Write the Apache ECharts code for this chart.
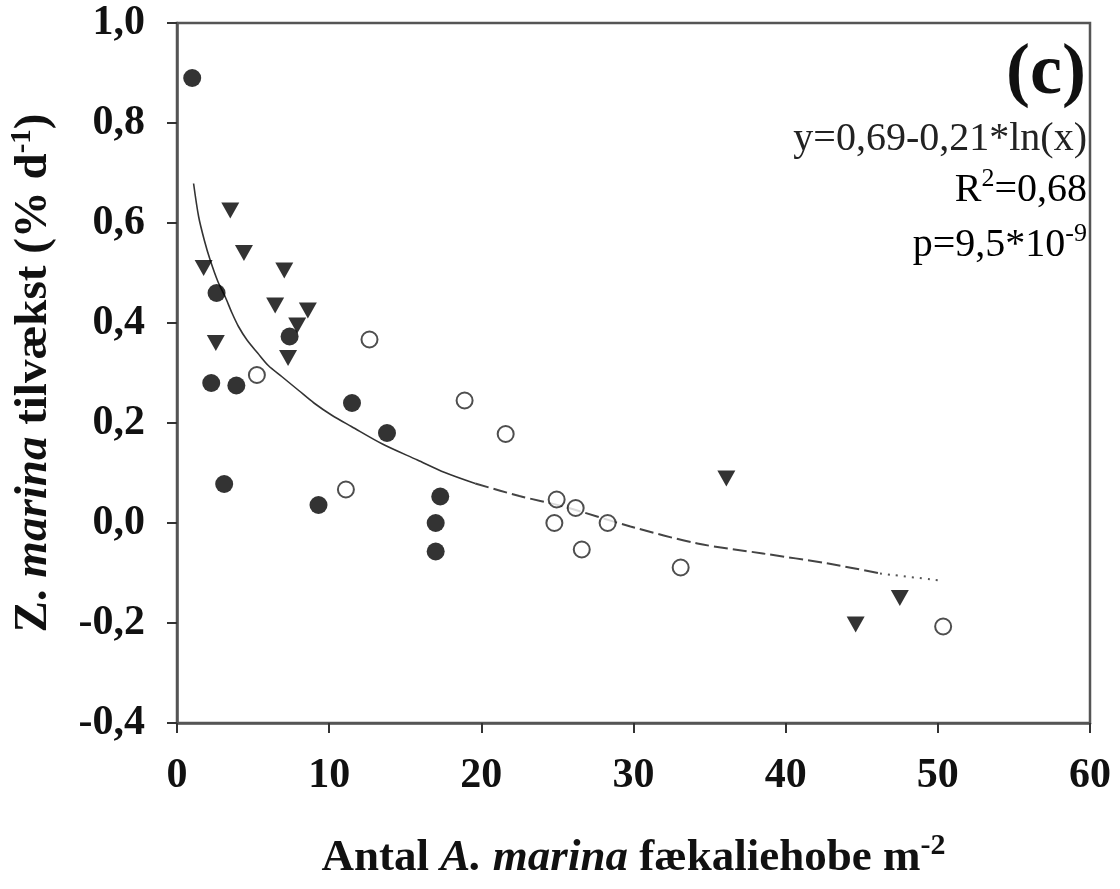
<!DOCTYPE html>
<html>
<head>
<meta charset="utf-8">
<script src="https://cdn.jsdelivr.net/npm/echarts@6.0.0/dist/echarts.min.js"></script>
<style>html,body{margin:0;padding:0;background:#fff;}#chart{width:1120px;height:889px;}</style>
</head>
<body>
<div id="chart"></div>
<script>
// Data
var filledX = [1.0, 2.6, 2.25, 3.9, 3.1, 7.4, 11.5, 13.8, 9.3, 17.3, 17.0, 17.0];
var filledY = [0.89, 0.46, 0.28, 0.275, 0.078, 0.373, 0.24, 0.18, 0.036, 0.053, 0.0, -0.057];

var triX = [3.5, 4.4, 1.75, 7.05, 6.45, 8.6, 7.9, 2.55, 7.3, 36.1, 47.5, 44.6];
var triY = [0.625, 0.54, 0.51, 0.505, 0.435, 0.425, 0.395, 0.36, 0.33, 0.089, -0.15, -0.203];

var openX = [5.25, 12.65, 11.1, 18.9, 21.6, 24.95, 26.2, 24.8, 28.3, 26.6, 33.1, 50.35];
var openY = [0.296, 0.367, 0.067, 0.245, 0.178, 0.047, 0.03, 0.0, 0.0, -0.053, -0.089, -0.207];

// fitted curve, points
var curveX = [1.09, 1.42, 1.8, 2.18, 2.7, 3.16, 3.6, 4.04, 4.6, 5.3, 6.0, 6.88, 8.0, 9.0, 10.2, 11.46, 13.5, 15.8, 17.6, 19.6, 22.5, 25.4, 29.8, 34.2, 38.5, 42.8, 46.2, 50.2];
var curveY = [0.679, 0.613, 0.565, 0.526, 0.482, 0.453, 0.421, 0.393, 0.366, 0.34, 0.315, 0.293, 0.265, 0.24, 0.215, 0.193, 0.158, 0.126, 0.101, 0.079, 0.054, 0.033, -0.007, -0.041, -0.061, -0.081, -0.101, -0.115];

var xTicks = [0, 10, 20, 30, 40, 50, 60];
var yTicks = [-0.4, -0.2, 0.0, 0.2, 0.4, 0.6, 0.8, 1.0];

var eqLines = ['y=0,69-0,21*ln(x)', 'R', '2', '=0,68', 'p=9,5*10', '-9'];

function pairs(xs, ys) { return xs.map(function (x, i) { return [x, ys[i]]; }); }
function seg(a, b) { return pairs(curveX.slice(a, b + 1), curveY.slice(a, b + 1)); }

var FONT = "'Liberation Serif', 'Times New Roman', serif";
var chart = echarts.init(document.getElementById('chart'), null, { renderer: 'canvas' });

var option = {
  backgroundColor: '#fff',
  animation: false,
  grid: { left: 177, right: 30, top: 23, bottom: 166, containLabel: false, outerBoundsMode: 'none',
          show: true, borderColor: '#555', borderWidth: 2.5, backgroundColor: 'transparent' },
  xAxis: {
    type: 'value', min: xTicks[0], max: xTicks[xTicks.length - 1], interval: 10,
    axisLine: { show: true, onZero: false, lineStyle: { color: '#555', width: 2.5 } },
    axisTick: { show: true, inside: false, length: 10, lineStyle: { color: '#333', width: 2 } },
    splitLine: { show: false },
    axisLabel: { fontFamily: FONT, fontWeight: 'bold', fontSize: 42, color: '#111', margin: 32 },
    name: '{b|Antal }{i|A. marina}{b| fækaliehobe m}{sup|-2}',
    nameLocation: 'middle', nameGap: 108,
    nameTextStyle: {
      rich: {
        b: { fontFamily: FONT, fontWeight: 'bold', fontSize: 45, color: '#111' },
        i: { fontFamily: FONT, fontWeight: 'bold', fontStyle: 'italic', fontSize: 45, color: '#111' },
        sup: { fontFamily: FONT, fontWeight: 'bold', fontSize: 30, color: '#111', verticalAlign: 'bottom', padding: [0, 0, 24, 0] }
      }
    }
  },
  yAxis: {
    type: 'value', min: yTicks[0], max: yTicks[yTicks.length - 1], interval: 0.2,
    axisLine: { show: true, onZero: false, lineStyle: { color: '#555', width: 2.5 } },
    axisTick: { show: true, inside: false, length: 10, lineStyle: { color: '#333', width: 2 } },
    splitLine: { show: false },
    axisLabel: {
      fontFamily: FONT, fontWeight: 'bold', fontSize: 42, color: '#111', margin: 32,
      formatter: function (v) { if (Math.abs(v) < 1e-9) v = 0; return v.toFixed(1).replace('.', ','); }
    },
    name: '{b|Z. }{i|marina}{b| tilvækst (% d}{sup|-1}{b|)}',
    nameLocation: 'middle', nameGap: 118, nameRotate: 90,
    nameTextStyle: {
      rich: {
        b: { fontFamily: FONT, fontWeight: 'bold', fontSize: 47, color: '#111' },
        i: { fontFamily: FONT, fontWeight: 'bold', fontStyle: 'italic', fontSize: 47, color: '#111' },
        sup: { fontFamily: FONT, fontWeight: 'bold', fontSize: 29, color: '#111', verticalAlign: 'bottom', padding: [0, 0, 22, 0] }
      }
    }
  },
  graphic: [
    { type: 'text', right: 34, top: 38, style: { text: '(c)', fontFamily: FONT, fontWeight: 'bold', fontSize: 72, fill: '#111', textAlign: 'right' } },
    { type: 'text', right: 33, top: 119, style: { text: eqLines[0], fontFamily: FONT, fontSize: 40, fill: '#222', textAlign: 'right' } },
    { type: 'text', right: 33, top: 166, style: {
        text: '{n|' + eqLines[1] + '}{s|' + eqLines[2] + '}{n|' + eqLines[3] + '}', textAlign: 'right',
        rich: { n: { fontFamily: FONT, fontSize: 40, color: '#222' }, s: { fontFamily: FONT, fontSize: 26, color: '#222', verticalAlign: 'bottom', padding: [0, 0, 22, 0] } } } },
    { type: 'text', right: 33, top: 221, style: {
        text: '{n|' + eqLines[4] + '}{s|' + eqLines[5] + '}', textAlign: 'right',
        rich: { n: { fontFamily: FONT, fontSize: 40, color: '#222' }, s: { fontFamily: FONT, fontSize: 26, color: '#222', verticalAlign: 'bottom', padding: [0, 0, 22, 0] } } } }
  ],
  series: [
    { type: 'line', data: seg(0, 19), smooth: 0.3, showSymbol: false, symbol: 'none', lineStyle: { color: '#333', width: 1.6 }, z: 2 },
    { type: 'line', data: seg(19, 26), smooth: 0.3, showSymbol: false, symbol: 'none', lineStyle: { color: '#444', width: 2, type: [14, 5] }, z: 2 },
    { type: 'line', data: seg(26, 27), smooth: 0.3, showSymbol: false, symbol: 'none', lineStyle: { color: '#555', width: 2, type: [2, 6] }, z: 2 },
    { type: 'scatter', data: pairs(filledX, filledY), symbol: 'circle', symbolSize: 18, itemStyle: { color: '#000' }, z: 5 },
    { type: 'scatter', data: pairs(triX, triY), symbol: 'triangle', symbolRotate: 180, symbolSize: [18, 16], itemStyle: { color: '#000' }, z: 5 },
    { type: 'scatter', data: pairs(openX, openY), symbol: 'circle', symbolSize: 16, itemStyle: { color: '#fff', borderColor: '#222', borderWidth: 2 }, z: 5 }
  ]
};
chart.setOption(option);
</script>
</body>
</html>
